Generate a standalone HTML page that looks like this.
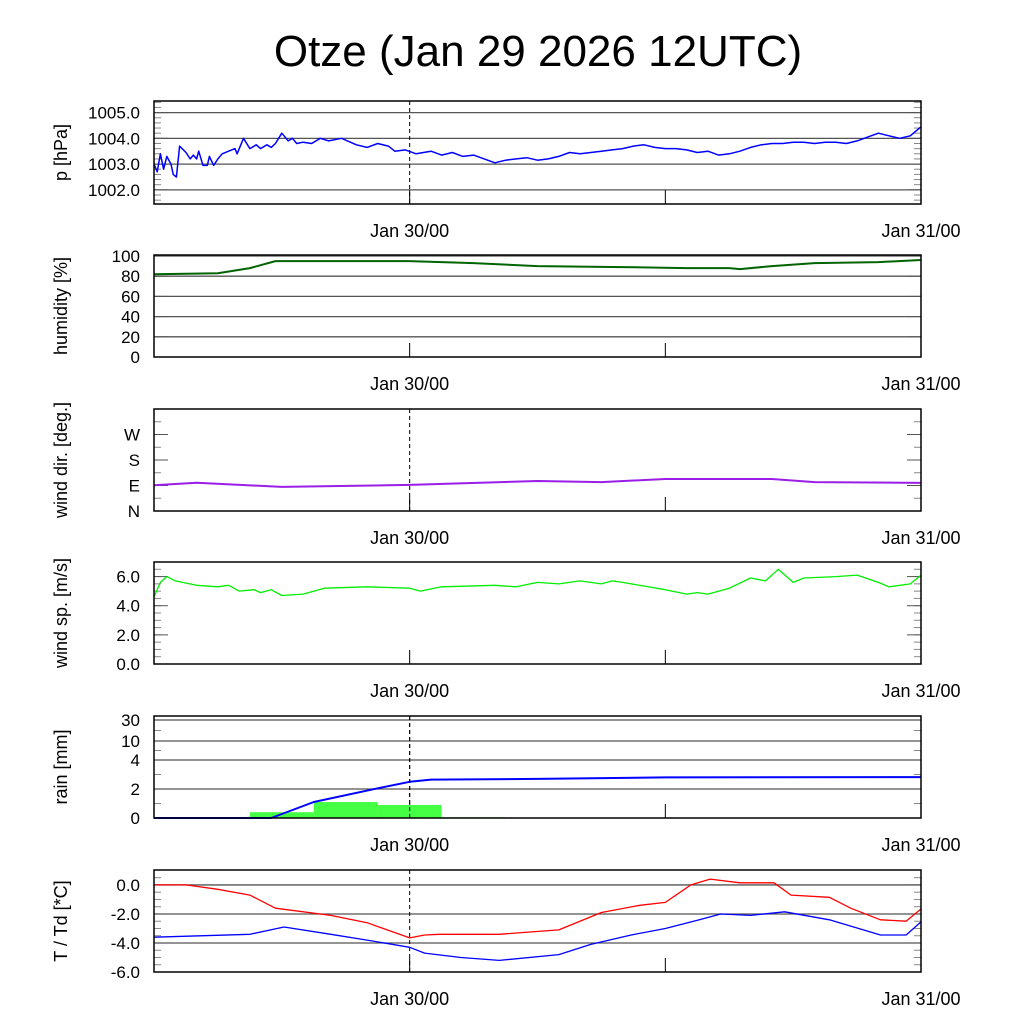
<!DOCTYPE html>
<html><head><meta charset="utf-8"><style>
body{margin:0;background:#fff;}
svg{display:block;font-family:"Liberation Sans",sans-serif;}
</style></head><body>
<svg id="c" width="1024" height="1024">
<text x="538" y="66" font-size="44" text-anchor="middle">Otze (Jan 29 2026 12UTC)</text>
</svg>
<script>
// hours since Jan 29 12UTC
const pT=[0,0.15,0.3,0.45,0.6,0.8,0.9,1.05,1.2,1.5,1.7,1.85,2.0,2.1,2.3,2.5,2.6,2.8,3.0,3.2,3.5,3.8,3.9,4.2,4.5,4.8,5.0,5.3,5.5,5.7,6.0,6.3,6.5,6.7,7.0,7.4,7.8,8.2,8.8,9.5,10,10.5,11,11.3,11.8,12.3,13,13.5,14,14.5,15,15.5,16,16.5,17,17.5,18,18.5,19,19.5,20,20.5,21,21.5,22,22.5,23,23.5,24,24.5,25,25.5,26,26.5,27,27.5,28,28.5,29,29.5,30,30.5,31,31.5,32,32.5,33,33.5,34,34.5,35,35.5,36];
const pV=[1003.0,1002.7,1003.4,1002.8,1003.3,1003.0,1002.6,1002.5,1003.7,1003.45,1003.2,1003.35,1003.2,1003.5,1002.95,1002.95,1003.3,1002.95,1003.2,1003.4,1003.5,1003.6,1003.4,1004.0,1003.6,1003.75,1003.6,1003.75,1003.65,1003.8,1004.2,1003.9,1004.0,1003.8,1003.85,1003.8,1004.0,1003.9,1004.0,1003.75,1003.65,1003.8,1003.7,1003.5,1003.55,1003.4,1003.5,1003.35,1003.45,1003.3,1003.35,1003.2,1003.05,1003.15,1003.2,1003.25,1003.15,1003.2,1003.3,1003.45,1003.4,1003.45,1003.5,1003.55,1003.6,1003.7,1003.75,1003.65,1003.6,1003.6,1003.55,1003.45,1003.5,1003.35,1003.4,1003.5,1003.65,1003.75,1003.8,1003.8,1003.85,1003.85,1003.8,1003.85,1003.85,1003.8,1003.9,1004.05,1004.2,1004.1,1004.0,1004.1,1004.45];
const hT=[0,3,4.5,5.7,8,12,15,18,22,25,27,27.5,29,31,34,36];
const hV=[82,83,88,95,95,95,93,90,89,88,88,87,90,93,94,96];
const dT=[0,2,6,12,18,21,24,29,31,36];
const dV=[91,100,85,92,106,102,113,113,102,99];
const wT=[0,0.3,0.6,1,2,3,3.5,4,4.7,5,5.5,6,7,8,10,12,12.5,13.5,16,17,18,19,20,21,21.5,22,24,25,25.5,26,27,28,28.7,29.3,30,30.5,32,33,34,34.5,35.5,36];
const wV=[4.6,5.6,6.0,5.7,5.4,5.3,5.4,5.0,5.1,4.9,5.1,4.7,4.8,5.2,5.3,5.2,5.0,5.3,5.4,5.3,5.6,5.5,5.7,5.5,5.7,5.6,5.1,4.8,4.9,4.8,5.2,5.9,5.7,6.5,5.6,5.9,6.0,6.1,5.6,5.3,5.5,6.1];
const rainStart=[4.5,7.5,10.5,13.5,19.5];
const rainVal=[0.4,1.1,0.9,0.05,0.03];
const cT=[0,5.5,7.5,10.5,12,13,18,24,36];
const cV=[0,0,1.1,2.05,2.5,2.65,2.7,2.8,2.82];
const tT=[0,1.5,2,3,4.5,5.7,8.3,10,12,12.7,13.4,16.2,19,21,22.8,24,25.2,26.1,27.5,29.1,29.9,31.7,32.7,34.1,35.3,36];
const tV=[0,0,-0.1,-0.3,-0.7,-1.6,-2.1,-2.6,-3.65,-3.45,-3.4,-3.4,-3.1,-1.9,-1.4,-1.2,0,0.4,0.15,0.15,-0.7,-0.85,-1.6,-2.4,-2.5,-1.65];
const tdT=[0,4.5,6.1,8.3,10,12,12.7,14.4,16.2,19,20.5,22.4,24,25.6,26.6,28,29.6,31.7,34.1,35.3,36];
const tdV=[-3.6,-3.4,-2.9,-3.4,-3.8,-4.3,-4.7,-5.0,-5.2,-4.8,-4.1,-3.45,-3.0,-2.4,-2.0,-2.1,-1.85,-2.4,-3.45,-3.45,-2.55];

const svg=document.getElementById('c');const NS='http://www.w3.org/2000/svg';
const X0=154,X1=921;
function xs(h){return X0+h*(X1-X0)/36;}
function mk(tag,at,parent){const e=document.createElementNS(NS,tag);for(const k in at)e.setAttribute(k,at[k]);(parent||svg).appendChild(e);return e;}
function panel(name,top,bot,ymap,grid,labels,minor,title,dashed){
  const g=mk('g',{});
  
  
  grid.forEach(v=>{mk('line',{x1:X0,x2:X1,y1:ymap(v),y2:ymap(v),stroke:'#555','stroke-width':1.3},g);});
  minor.forEach(v=>{const y=ymap(v);mk('line',{x1:X0,x2:X0+7,y1:y,y2:y,stroke:'#888'},g);mk('line',{x1:X1-7,x2:X1,y1:y,y2:y,stroke:'#888'},g);});
  labels.forEach(([v,t])=>{const y=ymap(v);mk('line',{x1:X0,x2:X0+14,y1:y,y2:y,stroke:'#555'},g);mk('line',{x1:X1-14,x2:X1,y1:y,y2:y,stroke:'#555'},g);
    const tx=mk('text',{x:140,y:y+6,'font-size':17,'text-anchor':'end'},g);tx.textContent=t;
    
    });
  [12,24].forEach(h=>mk('line',{x1:xs(h),x2:xs(h),y1:bot-14,y2:bot,stroke:'#000'},g));
  if(dashed)mk('line',{x1:xs(12),x2:xs(12),y1:top,y2:bot,stroke:'#000','stroke-dasharray':'4,3'},g);
  [[12,'Jan 30/00'],[36,'Jan 31/00']].forEach(([h,t])=>{const tx=mk('text',{x:xs(h),y:bot+33,'font-size':18,'text-anchor':'middle'},g);tx.textContent=t;
    
    });
  const ty=(top+bot)/2;const tt=mk('text',{x:0,y:0,'font-size':18,'text-anchor':'middle',transform:`translate(67,${ty}) rotate(-90)`},g);tt.textContent=title;
  
  
  return g;
}
function frame(g,top,bot){mk('rect',{x:X0,y:top,width:X1-X0,height:bot-top,fill:'none',stroke:'#000','stroke-width':1.5},g);}
function line(g,T,V,ymap,color,name,w){const d=T.map((t,i)=>(i?'L':'M')+xs(t).toFixed(1)+','+ymap(V[i]).toFixed(1)).join('');
  const p=mk('path',{d:d,fill:'none',stroke:color,'stroke-width':w||1.5,'stroke-linejoin':'round'},g);
  
  }
function lin(top,bot,lo,hi){return v=>bot-(v-lo)*(bot-top)/(hi-lo);}
function range(a,b,s){const r=[];for(let v=a;v<=b+1e-9;v+=s)r.push(+v.toFixed(3));return r;}

let ym=lin(101,204,1001.45,1005.45);
let g=panel('pressure',101,204,ym,[1002,1003,1004,1005],[[1002,'1002.0'],[1003,'1003.0'],[1004,'1004.0'],[1005,'1005.0']],range(1001.6,1005.4,0.2),'p [hPa]',true);
line(g,pT,pV,ym,'#0000ff','pressure-line');frame(g,101,204);

ym=lin(255,357,0,101);
g=panel('humidity',255,357,ym,[20,40,60,80,100],[[0,'0'],[20,'20'],[40,'40'],[60,'60'],[80,'80'],[100,'100']],[],'humidity [%]',false);
line(g,hT,hV,ym,'#006400','humidity-line',2);frame(g,255,357);

ym=lin(409,511,0,360);
g=panel('wind-dir',409,511,ym,[],[[0,'N'],[90,'E'],[180,'S'],[270,'W']],range(45,315,90),'wind dir. [deg.]',true);
line(g,dT,dV,ym,'#9a1ee6','wind-dir-line',2);frame(g,409,511);

ym=lin(562,664,0,7);
g=panel('wind-speed',562,664,ym,[],[[0,'0.0'],[2,'2.0'],[4,'4.0'],[6,'6.0']],range(0.5,6.5,0.5),'wind sp. [m/s]',false);
line(g,wT,wV,ym,'#00ee00','wind-speed-line',1.3);frame(g,562,664);

const rp=[[0,818],[4,760],[10,741],[30,720],[40,716]];
ym=v=>{for(let i=1;i<rp.length;i++){if(v<=rp[i][0]){const a=rp[i-1],b=rp[i];return a[1]+(v-a[0])*(b[1]-a[1])/(b[0]-a[0]);}}return 716;};
g=panel('rain',716,818,ym,[2,4,10,30],[[0,'0'],[2,'2'],[4,'4'],[10,'10'],[30,'30']],[1,3,7,20],'rain [mm]',true);
rainStart.forEach((s,i)=>{const r=mk('rect',{x:xs(s),y:ym(rainVal[i]),width:xs(s+3)-xs(s),height:818-ym(rainVal[i]),fill:i==4?'#22aa22':'#44ff44'},g);
  
  });
line(g,cT,cV,ym,'#0000ff','cumulative-rain-line',2);
mk('line',{x1:xs(12),x2:xs(12),y1:716,y2:818,stroke:'#000','stroke-dasharray':'4,3'},g);
frame(g,716,818);

ym=lin(870,972,-6,1.03);
g=panel('temperature',870,972,ym,[0,-2,-4],[[-6,'-6.0'],[-4,'-4.0'],[-2,'-2.0'],[0,'0.0']],range(-5.5,0.5,0.5),'T / Td [*C]',true);
line(g,tT,tV,ym,'#ff0000','temperature-line',1.3);
line(g,tdT,tdV,ym,'#0000ff','dewpoint-line',1.3);frame(g,870,972);
</script>
</body></html>
